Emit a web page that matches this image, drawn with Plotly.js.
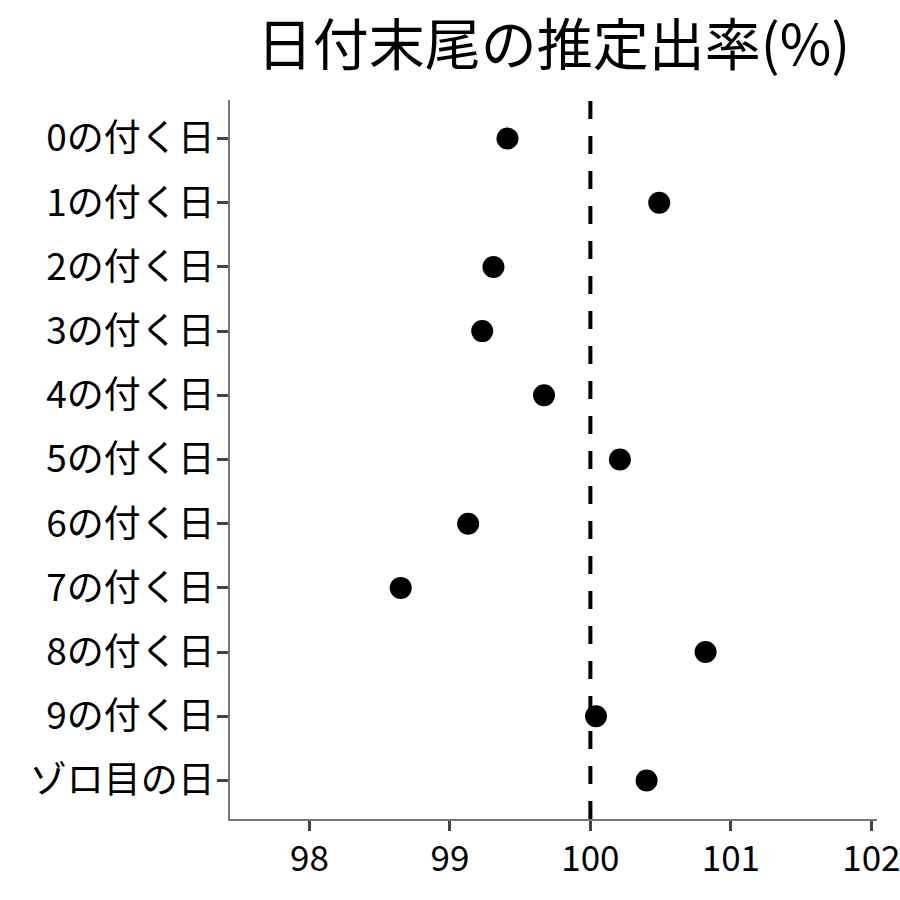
<!DOCTYPE html>
<html><head><meta charset="utf-8">
<script src="https://cdn.plot.ly/plotly-3.0.1.min.js"></script>
<style>body{margin:0;background:#fff}</style>
</head><body>
<div id="chart" style="width:900px;height:900px"></div>
<script>
const categories = ["0の付く日","1の付く日","2の付く日","3の付く日","4の付く日","5の付く日","6の付く日","7の付く日","8の付く日","9の付く日","ゾロ目の日"];
const rates = [99.41, 100.49, 99.31, 99.23, 99.67, 100.21, 99.13, 98.65, 100.82, 100.04, 100.40];
const refValue = 100;
const xTicks = [98, 99, 100, 101, 102];

const font = "'Noto Sans CJK JP', 'Noto Sans', sans-serif";
Plotly.newPlot('chart', [{
  type: 'scatter', mode: 'markers',
  x: rates, y: categories,
  marker: {color: '#000', size: 22},
  hoverinfo: 'x+y'
}], {
  width: 900, height: 900,
  margin: {l: 230, r: 23, t: 100, b: 81},
  paper_bgcolor: '#fff', plot_bgcolor: '#fff',
  font: {family: font, color: '#000'},
  title: {text: '日付末尾の推定出率(%)', font: {family: font, size: 56, color: '#000'}, x: 0.5, xref: 'paper', xanchor: 'center', y: 0.95, yref: 'container', yanchor: 'middle'},
  xaxis: {range: [97.435, 102.04], tickvals: xTicks, ticktext: xTicks.map(String),
    showgrid: false, zeroline: false, showline: true, linecolor: '#777', linewidth: 1.5,
    ticks: 'outside', ticklen: 10, tickwidth: 3, tickcolor: '#444', ticklabeloverflow: 'allow',
    ticklabelstandoff: -2,
    tickfont: {family: font, size: 35, color: '#000'}},
  yaxis: {type: 'category', categoryorder: 'array', categoryarray: categories,
    range: [10.6, -0.6], showgrid: false, zeroline: false, showline: true, linecolor: '#777', linewidth: 1.5,
    ticks: 'outside', ticklen: 11, tickwidth: 3, tickcolor: '#444', ticklabelstandoff: -5,
    tickfont: {family: font, size: 37, color: '#000'}},
  shapes: [{type: 'line', xref: 'x', yref: 'paper', x0: refValue, x1: refValue, y0: 0, y1: 1,
    line: {color: '#000', width: 4, dash: '18px,17px'}, layer: 'below'}],
  showlegend: false
}, {displayModeBar: false});
</script>
</body></html>
